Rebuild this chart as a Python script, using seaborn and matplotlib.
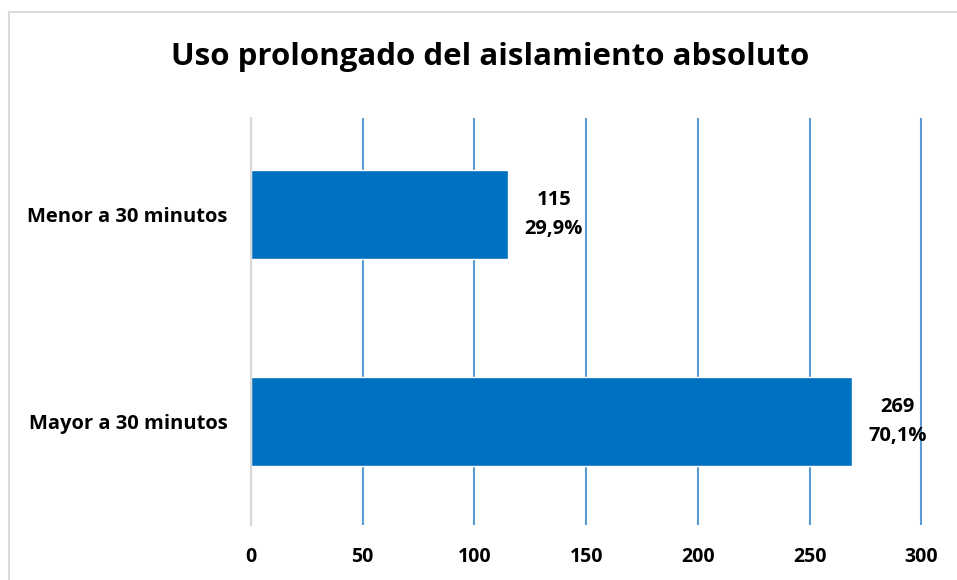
import matplotlib
matplotlib.use("Agg")
import matplotlib.pyplot as plt
import matplotlib.lines as mlines
import seaborn as sns
import pandas as pd

categories = ["Menor a 30 minutos", "Mayor a 30 minutos"]
counts = [115, 269]
percents = ["29,9%", "70,1%"]
xticks = [0, 50, 100, 150, 200, 250, 300]

sns.set_theme(style="white")
plt.rcParams['font.family'] = ['Open Sans', 'DejaVu Sans']
plt.rcParams['text.color'] = 'black'
plt.rcParams['xtick.color'] = 'black'
plt.rcParams['ytick.color'] = 'black'

df = pd.DataFrame({"cat": categories, "n": counts})

fig = plt.figure(figsize=(9.57, 5.8), dpi=100)
ax = fig.add_axes([251/957, 1-525/580, (922-251)/957, (525-118)/580])

sns.barplot(data=df, x="n", y="cat", color="#0070C0", saturation=1, width=0.43, ax=ax, orient="h")

ax.set_xlim(0, 300.3)
ax.set_ylim(1.5, -0.466)
ax.set_xticks(xticks)
ax.set_xticklabels([str(t) for t in xticks], fontsize=14, fontweight="bold", color="black")
ax.tick_params(axis="x", length=0, pad=16)
ax.tick_params(axis="y", length=0, pad=17)
for lbl in ax.get_yticklabels():
    lbl.set_fontsize(14.5)
    lbl.set_fontweight("bold")
    lbl.set_color("black")
ax.set_xlabel("")
ax.set_ylabel("")
ax.xaxis.grid(True, color="#5B9BD5", linewidth=1.5)
ax.set_axisbelow(True)
for s in ["top", "right", "bottom"]:
    ax.spines[s].set_visible(False)
ax.spines["left"].set_color("#D9D9D9")
ax.spines["left"].set_linewidth(1.5)
ax.spines["left"].set_zorder(3)

for i, (c, p) in enumerate(zip(counts, percents)):
    ax.annotate(f"{c}\n{p}", xy=(c, i), xytext=(33, 0), textcoords="offset points",
                ha="center", va="center", fontsize=14.5, fontweight="bold",
                linespacing=1.65, color="black")

fig.text(490/957, 1-57/580, "Uso prolongado del aislamiento absoluto", ha="center", va="center",
         fontsize=22.5, fontweight="bold", color="black")

fig.add_artist(mlines.Line2D([8.5/957, 8.5/957], [0, 1-11.5/580], transform=fig.transFigure,
                             color="#D9D9D9", linewidth=1.5))
fig.add_artist(mlines.Line2D([8.5/957, 1], [1-11.5/580, 1-11.5/580], transform=fig.transFigure,
                             color="#D9D9D9", linewidth=1.5))

fig.savefig("out.png", dpi=100)
